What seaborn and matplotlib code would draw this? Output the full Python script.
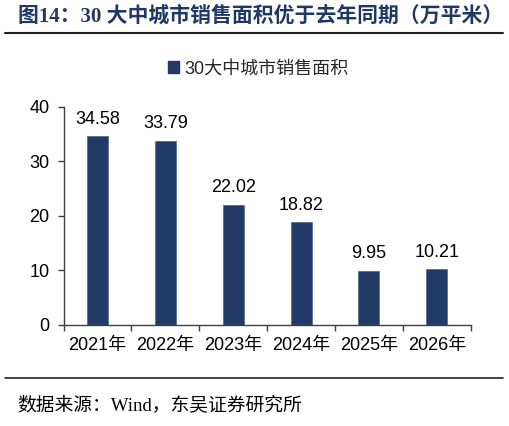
import matplotlib
matplotlib.use("Agg")
import matplotlib.pyplot as plt
import seaborn as sns
import pandas as pd
from matplotlib.patches import Patch
from matplotlib.lines import Line2D

years = ["2021年", "2022年", "2023年", "2024年", "2025年", "2026年"]
values = [34.58, 33.79, 22.02, 18.82, 9.95, 10.21]
series_name = "30大中城市销售面积"
title_text = "图14：30 大中城市销售面积优于去年同期（万平米）"
source_text = "数据来源：Wind，东吴证券研究所"

sns.set_theme(style="white")
sans = ["Liberation Sans", "Noto Sans CJK SC", "DejaVu Sans"]
serif = ["Liberation Serif", "Noto Sans CJK SC", "DejaVu Sans"]
plt.rcParams["font.family"] = sans

bar_color = "#213A66"
axis_color = "#404040"

df = pd.DataFrame({"year": years, "value": values})

fig = plt.figure(figsize=(5.09, 4.26), dpi=100)
ax = fig.add_axes([0.1248, 0.2371, 0.80, 0.5124])

sns.barplot(data=df, x="year", y="value", color=bar_color, width=0.31,
            saturation=1, ax=ax, edgecolor="#5a6f96", linewidth=0.6)

for c in ax.containers:
    ax.bar_label(c, labels=[f"{v:.2f}" for v in values], padding=6,
                 fontsize=13, color="black", family=sans)

ax.set_ylim(0, 40)
ax.set_yticks([0, 10, 20, 30, 40])
ax.set_xlim(-0.5, len(years) - 0.5)
ax.set_xlabel("")
ax.set_ylabel("")

for s in ["top", "right"]:
    ax.spines[s].set_visible(False)
for s in ["left", "bottom"]:
    ax.spines[s].set_color(axis_color)
    ax.spines[s].set_linewidth(1.0)

ax.tick_params(axis="y", direction="out", length=4, width=1, color=axis_color,
               labelsize=13, labelcolor="black", pad=6, left=True)
ax.tick_params(axis="x", which="major", length=0, labelsize=13,
               labelcolor="black", pad=9)
ax.set_xticks([i - 0.5 for i in range(len(years) + 1)], minor=True)
ax.tick_params(axis="x", which="minor", direction="out", length=4, width=1,
               color=axis_color, bottom=True)
for lab in ax.get_xticklabels() + ax.get_yticklabels():
    lab.set_family(sans)

handle = Patch(facecolor=bar_color, edgecolor=bar_color)
fig.legend([handle], [series_name], loc="center",
           bbox_to_anchor=(258 / 509, 1 - 69 / 426), frameon=False,
           handlelength=0.6, handleheight=0.6, handletextpad=0.3,
           prop={"family": sans, "size": 13})

fig.text(18 / 509, 1 - 17 / 426, title_text, ha="left", va="center",
         fontsize=15, fontweight="bold", color="#1F3864", family=serif)
fig.add_artist(Line2D([5 / 509, 503 / 509], [1 - 33 / 426, 1 - 33 / 426],
                      transform=fig.transFigure, color="#222222", linewidth=1.5))
fig.add_artist(Line2D([5 / 509, 503 / 509], [1 - 378 / 426, 1 - 378 / 426],
                      transform=fig.transFigure, color="#222222", linewidth=1.2))
fig.text(17 / 509, 1 - 406 / 426, source_text, ha="left", va="center",
         fontsize=13.5, color="black", family=serif)

fig.savefig("out.png", dpi=100)
